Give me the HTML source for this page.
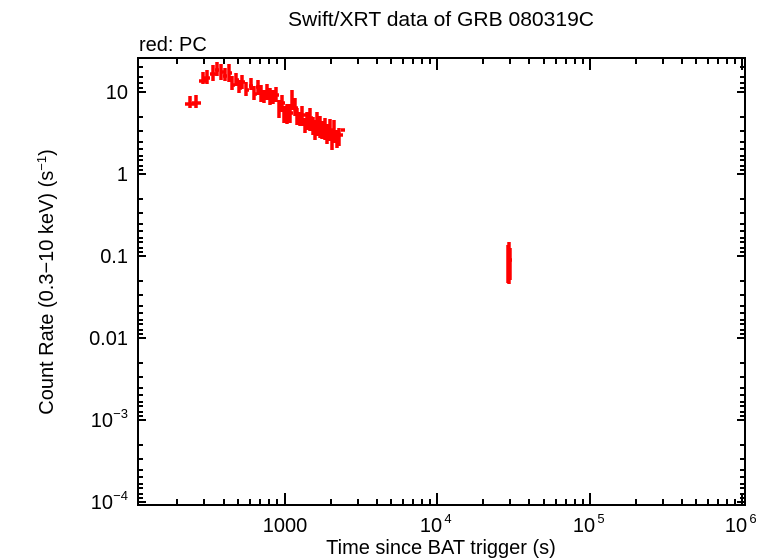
<!DOCTYPE html>
<html><head><meta charset="utf-8"><style>
body{margin:0;background:#fff;}
svg{display:block;font-family:"Liberation Sans",sans-serif;}
</style></head><body>
<svg width="771" height="558" viewBox="0 0 771 558">
<rect width="771" height="558" fill="#fff"/>
<text x="441" y="26" font-size="20" text-anchor="middle" textLength="306" lengthAdjust="spacingAndGlyphs">Swift/XRT data of GRB 080319C</text>
<text x="139" y="51" font-size="20">red: PC</text>
<rect x="138" y="58" width="607" height="447" fill="none" stroke="#000" stroke-width="2"/>
<g stroke="#000" stroke-width="2">
<line x1="285" y1="505" x2="285" y2="493"/><line x1="285" y1="58" x2="285" y2="70"/>
<line x1="437" y1="505" x2="437" y2="493"/><line x1="437" y1="58" x2="437" y2="70"/>
<line x1="590" y1="505" x2="590" y2="493"/><line x1="590" y1="58" x2="590" y2="70"/>
<line x1="742" y1="505" x2="742" y2="493"/><line x1="742" y1="58" x2="742" y2="70"/>
<line x1="177" y1="505" x2="177" y2="499"/><line x1="204" y1="505" x2="204" y2="499"/><line x1="224" y1="505" x2="224" y2="499"/><line x1="238" y1="505" x2="238" y2="499"/><line x1="250" y1="505" x2="250" y2="499"/><line x1="260" y1="505" x2="260" y2="499"/><line x1="269" y1="505" x2="269" y2="499"/><line x1="277" y1="505" x2="277" y2="499"/>
<line x1="177" y1="58" x2="177" y2="64"/><line x1="204" y1="58" x2="204" y2="64"/><line x1="224" y1="58" x2="224" y2="64"/><line x1="238" y1="58" x2="238" y2="64"/><line x1="250" y1="58" x2="250" y2="64"/><line x1="260" y1="58" x2="260" y2="64"/><line x1="269" y1="58" x2="269" y2="64"/><line x1="277" y1="58" x2="277" y2="64"/>
<line x1="331" y1="505" x2="331" y2="499"/><line x1="358" y1="505" x2="358" y2="499"/><line x1="377" y1="505" x2="377" y2="499"/><line x1="391" y1="505" x2="391" y2="499"/><line x1="403" y1="505" x2="403" y2="499"/><line x1="413" y1="505" x2="413" y2="499"/><line x1="422" y1="505" x2="422" y2="499"/><line x1="430" y1="505" x2="430" y2="499"/>
<line x1="331" y1="58" x2="331" y2="64"/><line x1="358" y1="58" x2="358" y2="64"/><line x1="377" y1="58" x2="377" y2="64"/><line x1="391" y1="58" x2="391" y2="64"/><line x1="403" y1="58" x2="403" y2="64"/><line x1="413" y1="58" x2="413" y2="64"/><line x1="422" y1="58" x2="422" y2="64"/><line x1="430" y1="58" x2="430" y2="64"/>
<line x1="483" y1="505" x2="483" y2="499"/><line x1="510" y1="505" x2="510" y2="499"/><line x1="529" y1="505" x2="529" y2="499"/><line x1="544" y1="505" x2="544" y2="499"/><line x1="556" y1="505" x2="556" y2="499"/><line x1="566" y1="505" x2="566" y2="499"/><line x1="575" y1="505" x2="575" y2="499"/><line x1="583" y1="505" x2="583" y2="499"/>
<line x1="483" y1="58" x2="483" y2="64"/><line x1="510" y1="58" x2="510" y2="64"/><line x1="529" y1="58" x2="529" y2="64"/><line x1="544" y1="58" x2="544" y2="64"/><line x1="556" y1="58" x2="556" y2="64"/><line x1="566" y1="58" x2="566" y2="64"/><line x1="575" y1="58" x2="575" y2="64"/><line x1="583" y1="58" x2="583" y2="64"/>
<line x1="636" y1="505" x2="636" y2="499"/><line x1="663" y1="505" x2="663" y2="499"/><line x1="682" y1="505" x2="682" y2="499"/><line x1="696" y1="505" x2="696" y2="499"/><line x1="708" y1="505" x2="708" y2="499"/><line x1="718" y1="505" x2="718" y2="499"/><line x1="727" y1="505" x2="727" y2="499"/><line x1="735" y1="505" x2="735" y2="499"/>
<line x1="636" y1="58" x2="636" y2="64"/><line x1="663" y1="58" x2="663" y2="64"/><line x1="682" y1="58" x2="682" y2="64"/><line x1="696" y1="58" x2="696" y2="64"/><line x1="708" y1="58" x2="708" y2="64"/><line x1="718" y1="58" x2="718" y2="64"/><line x1="727" y1="58" x2="727" y2="64"/><line x1="735" y1="58" x2="735" y2="64"/>
<line x1="138" y1="92" x2="146" y2="92"/><line x1="745" y1="92" x2="737" y2="92"/>
<line x1="138" y1="174" x2="146" y2="174"/><line x1="745" y1="174" x2="737" y2="174"/>
<line x1="138" y1="256" x2="146" y2="256"/><line x1="745" y1="256" x2="737" y2="256"/>
<line x1="138" y1="338" x2="146" y2="338"/><line x1="745" y1="338" x2="737" y2="338"/>
<line x1="138" y1="420" x2="146" y2="420"/><line x1="745" y1="420" x2="737" y2="420"/>
<line x1="138" y1="502" x2="146" y2="502"/><line x1="745" y1="502" x2="737" y2="502"/>
</g>
<g stroke="#000" stroke-width="2">
<path d="M138 67h5M138 77h5M138 83h5M138 88h5M138 117h5M138 131h5M138 142h5M138 149h5M138 156h5M138 160h5M138 166h5M138 170h5
M138 199h5M138 213h5M138 224h5M138 231h5M138 238h5M138 242h5M138 248h5M138 252h5
M138 281h5M138 295h5M138 306h5M138 313h5M138 320h5M138 324h5M138 330h5M138 334h5
M138 363h5M138 377h5M138 388h5M138 395h5M138 402h5M138 406h5M138 412h5M138 416h5
M138 445h5M138 459h5M138 470h5M138 477h5M138 484h5M138 488h5M138 494h5M138 498h5"/>
<path d="M745 67h-5M745 77h-5M745 83h-5M745 88h-5M745 117h-5M745 131h-5M745 142h-5M745 149h-5M745 156h-5M745 160h-5M745 166h-5M745 170h-5
M745 199h-5M745 213h-5M745 224h-5M745 231h-5M745 238h-5M745 242h-5M745 248h-5M745 252h-5
M745 281h-5M745 295h-5M745 306h-5M745 313h-5M745 320h-5M745 324h-5M745 330h-5M745 334h-5
M745 363h-5M745 377h-5M745 388h-5M745 395h-5M745 402h-5M745 406h-5M745 412h-5M745 416h-5
M745 445h-5M745 459h-5M745 470h-5M745 477h-5M745 484h-5M745 488h-5M745 494h-5M745 498h-5"/>
</g>
<g font-size="20" text-anchor="end">
<text x="128" y="99">10</text><text x="128" y="181">1</text><text x="128" y="263">0.1</text><text x="128" y="345">0.01</text>
<text x="113" y="427">10</text><text x="128" y="418" font-size="13">−3</text>
<text x="113" y="509">10</text><text x="128" y="500" font-size="13">−4</text>
</g>
<g font-size="20" text-anchor="middle">
<text x="285" y="532">1000</text>
<text x="431" y="532">10</text><text x="448" y="523" font-size="13">4</text>
<text x="584" y="532">10</text><text x="601" y="523" font-size="13">5</text>
<text x="736" y="532">10</text><text x="753" y="523" font-size="13">6</text>
<text x="441" y="554">Time since BAT trigger (s)</text>
</g>
<text transform="translate(53,282) rotate(-90)" font-size="20" text-anchor="middle">Count Rate (0.3−10 keV) (s<tspan font-size="13" dy="-7">−1</tspan><tspan dy="7">)</tspan></text>
<g stroke="#f00" stroke-width="3.5" fill="none">
<path d="M185 104h10M190 96v12M192 103h9M196 95v13
M199 81h8M203 72v12M204 78h6M207 70v14M210 74h6M213 65v16M215 70h4M217 62v14M220 72h4M221 64v16M223 76h4M225 68v13M228 73h4M229 64v18
M231 85h4M232 76v14M235 80h4M236 73v13M238 88h4M239 80v13M241 82h4M242 75v14M245 90h4M246 82v14M249 86h4M251 78v12
M253 94h4M254 86v14M256 87h4M258 80v15M260 94h4M261 85v17M263 98h4M264 90v13M266 92h4M267 84v16M270 95h4M270 88v17
M272 97h4M273 90v14M275 95h4M276 87v15M278 110h4M279 100v18M281 103h4M282 95v17M283 115h4M284 106v17M286 113h4M287 104v20M289 113h4M290 104v19
M291 100h4M292 90v20M294 108h4M295 98v18M296 117h4M297 108v17M299 120h4M300 112v14M302 115h4M302 106v20M304 126h4M305 118v15M306 121h4M307 112v18
M309 118h4M310 108v23M312 126h4M313 117v18M314 130h4M315 120v20M317 123h4M317 112v24M319 126h4M320 116v22M321 130h4M322 121v18M324 128h4M325 118v22
M326 133h4M327 124v20M329 130h4M330 119v22M331 138h4M332 130v20M334 134h4M334 120v23M336 139h4M337 130v18M339 135h4M339 128v18M341 130h4"/>
<path d="M507 260h5M509 242v42M508 245v38M510 248v32"/>
</g>
</svg>
</body></html>
